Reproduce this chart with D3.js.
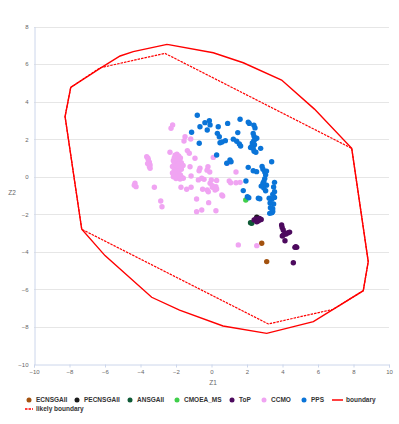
<!DOCTYPE html>
<html lang="en">
  <head>
    <meta charset="UTF-8" />
    <title>Z1 / Z2 scatter</title>
    <script src="https://d3js.org/d3.v7.min.js"></script>
    <style>
      body {
        margin: 0;
        background: #fff;
      }
      svg {
        font-family: "Liberation Sans", Arial, sans-serif;
      }
      .tick text {
        fill: #666;
        font-size: 6px;
      }
      .legend text {
        fill: #333;
        font-size: 6.5px;
        font-weight: bold;
      }
    </style>
  </head>
  <body>
    <svg width="399" height="424"></svg>

    <script>
      const xTicks = [-10, -8, -6, -4, -2, 0, 2, 4, 6, 8, 10];
      const yTicks = [-10, -8, -6, -4, -2, 0, 2, 4, 6, 8];

      const ecnsgaii = [[2.83, -3.54], [3.11, -4.52]];
      const pecnsgaii = [[2.55, -2.15]];
      const ansgaii = [[2.27, -2.48], [2.2, -2.45]];
      const cmoeaMs = [[1.93, -1.24]];
      const top_ = [
        [2.4, -2.3], [2.5, -2.25], [2.6, -2.3], [2.7, -2.22], [2.8, -2.28], [2.55, -2.4],
        [2.65, -2.35], [3.95, -2.57], [3.98, -2.7], [4.04, -2.84], [4.14, -3.01], [4.32, -2.98],
        [4.4, -2.95], [3.99, -3.16], [4.05, -3.1], [4.2, -3.05], [4.14, -3.41], [4.7, -3.76],
        [4.8, -3.76], [4.75, -3.72], [4.61, -4.58]
      ];
      const ccmo = [
        [-2.05, 1.15], [-1.95, 1.2], [-1.85, 1.1], [-2.1, 1.0], [-1.9, 0.95], [-1.75, 1.0],
        [-2.15, 0.85], [-2.0, 0.8], [-1.8, 0.85], [-1.7, 0.75], [-2.1, 0.65], [-1.95, 0.6],
        [-1.85, 0.7], [-2.2, 0.55], [-2.0, 0.45], [-1.8, 0.5], [-1.7, 0.4], [-2.1, 0.35],
        [-1.9, 0.3], [-2.2, 0.2], [-2.05, 0.15], [-1.85, 0.2], [-1.95, 0.05], [-2.15, 0.0],
        [-1.75, 0.1], [-1.65, -0.05], [-2.0, -0.1], [-1.6, 0.6],
        [-3.65, 1.07], [-3.58, 0.98], [-3.56, 0.89], [-3.5, 0.78], [-3.46, 0.63], [-3.5, 0.55],
        [-3.46, 0.45], [-3.6, 0.7],
        [-2.19, 2.76], [-2.28, 2.58], [-1.49, 2.13], [-1.55, 1.9], [-1.17, 2.01], [-2.34, 1.3],
        [-1.36, 1.39], [-1.25, 1.25], [-4.31, -0.35], [-4.25, -0.53], [-4.35, -0.45],
        [-3.22, -0.56], [-2.86, -1.29], [-2.79, -1.6], [-0.93, 0.98], [-1.21, 0.53],
        [-0.65, 0.45], [-0.7, 0.32], [-0.2, 0.53], [-0.25, 0.35], [-0.1, 0.25], [0.1, 1.03],
        [-1.15, 0.04], [-1.77, -0.12], [-1.59, -0.08], [-0.74, -0.17], [-0.42, -0.14],
        [-0.01, -0.17], [0.29, -0.2], [1.0, -0.23], [1.08, -0.32], [1.38, -0.32], [1.61, -0.3],
        [0.89, 0.72], [1.38, 0.25], [-1.72, -0.56], [-1.4, -0.67], [-1.15, -0.56], [-0.5, -0.67],
        [-0.24, -0.71], [0.05, -0.56], [0.25, -0.53], [0.2, -0.71], [0.63, -1.03],
        [-0.84, -1.19], [-0.16, -1.38], [-0.84, -1.86], [-0.55, -1.77], [0.25, -1.81],
        [-0.55, -0.08], [-0.08, -0.35], [0.05, -0.48], [0.29, -0.65], [-0.18, -0.8],
        [0.58, -0.97], [1.51, -3.63], [2.55, -3.67]
      ];
      const pps = [
        [-0.8, 3.27], [-0.65, 2.66], [-0.37, 2.88], [-0.12, 2.98], [-0.08, 2.76], [-0.24, 2.49],
        [-1.12, 2.37], [-0.69, 1.78], [0.38, 2.66], [0.33, 2.31], [0.44, 2.13], [0.48, 1.81],
        [0.59, 1.85], [0.91, 2.84], [0.78, 1.92], [1.61, 3.06], [1.48, 2.35], [1.23, 2.0],
        [1.42, 1.89], [1.57, 1.74], [1.64, 1.64], [2.07, 2.91], [2.13, 2.84], [2.39, 2.74],
        [2.45, 2.6], [2.35, 2.3], [2.4, 2.15], [2.45, 2.0], [2.38, 1.9], [2.3, 1.8], [2.42, 1.7],
        [2.25, 1.6], [2.35, 1.5], [2.4, 1.35], [2.5, 1.3], [2.55, 2.05], [2.2, 1.55],
        [2.77, 1.51], [0.29, 1.16], [1.04, 0.89], [1.1, 0.8], [0.86, 0.72], [2.07, 0.5],
        [2.35, 0.32], [2.54, 0.27], [2.85, 0.55], [2.9, 0.4], [3.0, 0.25], [3.05, 0.1],
        [3.0, -0.1], [2.95, -0.25], [2.9, -0.35], [3.1, -0.45], [2.95, -0.6], [3.05, -0.75],
        [2.8, -0.5], [3.1, 0.3], [3.39, 0.8], [3.55, -0.3], [3.5, -0.55], [3.55, -0.8],
        [3.45, -0.95], [3.4, -1.2], [3.5, -1.45], [3.45, -1.7], [3.4, -1.9], [3.55, -1.1],
        [1.94, -0.23], [1.79, -0.74], [2.02, -1.06], [2.1, -1.12], [2.64, -1.15], [2.72, -1.17],
        [3.25, -1.15], [3.3, -1.4], [3.32, -1.65], [3.28, -1.95], [3.39, -1.92], [3.45, -1.85]
      ];

      const boundary = [
        [-2.5, 7.05], [-4.41, 6.66], [-5.15, 6.43], [-6.28, 5.77], [-7.93, 4.76], [-8.25, 3.2],
        [-7.31, -2.8], [-6.0, -4.2], [-3.37, -6.42], [-1.8, -7.1], [0.65, -7.95], [3.11, -8.34],
        [5.74, -7.72], [8.55, -6.07], [8.83, -4.52], [7.9, 1.51], [5.8, 3.6], [3.95, 5.15],
        [1.79, 6.07], [0.1, 6.6], [-2.5, 7.05]
      ];
      const likelyBoundary = [
        [-6.28, 5.8], [-2.62, 6.57], [7.9, 1.51], [8.83, -4.52], [8.55, -6.07], [6.86, -7.06],
        [3.2, -7.84], [-7.31, -2.8], [-8.25, 3.2], [-7.93, 4.76], [-6.28, 5.8]
      ];

      const series = [
        { name: "ECNSGAII", color: "#a3520f", data: ecnsgaii },
        { name: "PECNSGAII", color: "#1a1a1a", data: pecnsgaii },
        { name: "ANSGAII", color: "#0e5a36", data: ansgaii },
        { name: "CMOEA_MS", color: "#3fcf4a", data: cmoeaMs },
        { name: "ToP", color: "#4d0a5e", data: top_ },
        { name: "CCMO", color: "#f0a4f2", data: ccmo },
        { name: "PPS", color: "#0a74d8", data: pps }
      ];

      const svg = d3.select("svg");
      const x = d3.scaleLinear().domain([-10, 10]).range([34, 389]);
      const y = d3.scaleLinear().domain([-10, 8]).range([364.5, 26.5]);

      // grid
      svg
        .append("g")
        .selectAll("line")
        .data(yTicks.filter((d) => d > -10))
        .enter()
        .append("line")
        .attr("x1", 34)
        .attr("x2", 389)
        .attr("y1", (d) => Math.round(y(d)) + 0.5)
        .attr("y2", (d) => Math.round(y(d)) + 0.5)
        .attr("stroke", "#e6e6e6")
        .attr("stroke-width", 1);

      const xAxis = svg
        .append("g")
        .attr("transform", "translate(0,364.5)")
        .call(d3.axisBottom(x).tickValues(xTicks).tickSize(3).tickPadding(2));
      xAxis.select(".domain").attr("stroke", "#ccd6eb");
      xAxis.selectAll(".tick line").attr("stroke", "#ccd6eb");

      const yAxis = svg
        .append("g")
        .attr("transform", "translate(34.5,0)")
        .call(d3.axisLeft(y).tickValues(yTicks).tickSize(0).tickPadding(6));
      yAxis.select(".domain").attr("stroke", "#ccd6eb");

      svg
        .append("text")
        .attr("x", 12)
        .attr("y", 195)
        .attr("text-anchor", "middle")
        .attr("font-size", 6.5)
        .attr("fill", "#666")
        .text("Z2");
      svg
        .append("text")
        .attr("x", 213)
        .attr("y", 385)
        .attr("text-anchor", "middle")
        .attr("font-size", 6.5)
        .attr("fill", "#666")
        .text("Z1");

      const line = d3
        .line()
        .x((d) => x(d[0]))
        .y((d) => y(d[1]));

      svg
        .append("path")
        .datum(boundary)
        .attr("d", line)
        .attr("fill", "none")
        .attr("stroke", "#ff0000")
        .attr("stroke-width", 1.4);

      svg
        .append("path")
        .datum(likelyBoundary)
        .attr("d", line)
        .attr("fill", "none")
        .attr("stroke", "#ff0000")
        .attr("stroke-width", 1.2)
        .attr("stroke-dasharray", "2.5,1");

      series.forEach(function (s) {
        svg
          .append("g")
          .selectAll("circle")
          .data(s.data)
          .enter()
          .append("circle")
          .attr("cx", (d) => x(d[0]))
          .attr("cy", (d) => y(d[1]))
          .attr("r", 2.7)
          .attr("fill", s.color);
      });

      // legend
      const legend = svg.append("g").attr("class", "legend");
      const markerX = [29, 77, 130, 177, 232, 264, 304];
      series.forEach(function (s, i) {
        legend
          .append("circle")
          .attr("cx", markerX[i])
          .attr("cy", 400)
          .attr("r", 2.5)
          .attr("fill", s.color);
        legend
          .append("text")
          .attr("x", markerX[i] + 7)
          .attr("y", 402.3)
          .text(s.name);
      });
      legend
        .append("line")
        .attr("x1", 332)
        .attr("x2", 343)
        .attr("y1", 400)
        .attr("y2", 400)
        .attr("stroke", "#ff0000")
        .attr("stroke-width", 1.5);
      legend.append("text").attr("x", 346).attr("y", 402.3).text("boundary");
      legend
        .append("line")
        .attr("x1", 25)
        .attr("x2", 33)
        .attr("y1", 409)
        .attr("y2", 409)
        .attr("stroke", "#ff0000")
        .attr("stroke-width", 1.5)
        .attr("stroke-dasharray", "2.5,1");
      legend.append("text").attr("x", 36).attr("y", 411.3).text("likely boundary");
    </script>
  </body>
</html>
